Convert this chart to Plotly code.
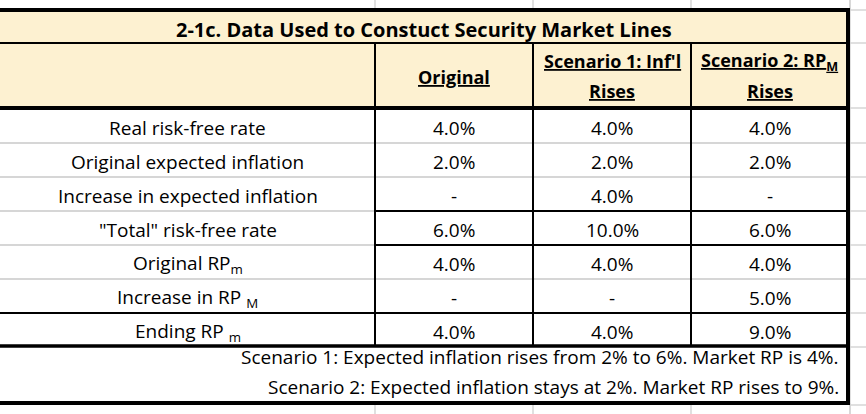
import plotly.graph_objects as go

# ---------------- data ----------------
title = "2-1c. Data Used to Constuct Security Market Lines"
col_headers = ["Original", "Scenario 1: Inf'l<br>Rises", "Scenario 2: RP<sub>M</sub><br>Rises"]
row_labels = [
    "Real risk-free rate",
    "Original expected inflation",
    "Increase in expected inflation",
    '"Total" risk-free rate',
    "Original RP<sub>m</sub>",
    "Increase in RP <sub>M</sub>",
    "Ending RP <sub>m</sub>",
]
original = [4.0, 2.0, None, 6.0, 4.0, None, 4.0]
scenario1 = [4.0, 2.0, 4.0, 10.0, 4.0, None, 4.0]
scenario2 = [4.0, 2.0, None, 6.0, 4.0, 5.0, 9.0]
notes = [
    "Scenario 1: Expected inflation rises from 2% to 6%. Market RP is 4%.",
    "Scenario 2: Expected inflation stays at 2%. Market RP rises to 9%.",
]

def fmt(v):
    return "-" if v is None else f"{v:.1f}%"

# ---------------- geometry (pixel coordinates on axes) ----------------
W, H = 866, 414
FONT = "'Open Sans', Lato, sans-serif"
col_x = [0, 375, 533, 691, 848]
title_top, title_bot = 10, 43
head_bot = 108
row_h = 34
first_row = 109
n_rows = len(row_labels)
rows_bot = first_row + n_rows * row_h  # 347
table_bot = 403

GRID = "#D6D6D6"
HEAD_BG = "#FDF1D1"

shapes = []

def line(x0, y0, x1, y1, color, width):
    shapes.append(dict(type="line", xref="x", yref="y", x0=x0, y0=y0, x1=x1, y1=y1,
                       line=dict(color=color, width=width), layer="above"))

# spreadsheet gridlines outside the table
for x in [375, 533, 691, 850]:
    line(x, 0, x, title_top, GRID, 1.5)
    line(x, table_bot, x, H, GRID, 1.5)
line(850, 0, 850, H, GRID, 1.5)
for y in [title_top, title_top + 33, head_bot] + [first_row + i * row_h for i in range(1, n_rows + 1)] + [table_bot + 2]:
    line(850, y, W, y, GRID, 1.5)

# header background
shapes.append(dict(type="rect", xref="x", yref="y", x0=0, y0=title_top, x1=col_x[-1], y1=head_bot,
                   fillcolor=HEAD_BG, line=dict(width=0), layer="below"))

# inner row separators
black_full = {6}          # above "Ending RP"
black_values = {3, 4}     # above "Total" and "Original RP" (values only)
for i in range(1, n_rows):
    y = first_row + i * row_h
    if i in black_full:
        line(0, y, col_x[-1], y, "black", 2)
    elif i in black_values:
        line(0, y, col_x[1], y, GRID, 2)
        line(col_x[1], y, col_x[-1], y, "black", 2)
    else:
        line(0, y, col_x[-1], y, GRID, 2)

# column dividers
for x in col_x[1:-1]:
    line(x, title_bot, x, rows_bot, "black", 2)

# title bottom, header bottom, notes top
line(0, title_bot, col_x[-1], title_bot, "black", 2)
line(0, head_bot, col_x[-1], head_bot, "black", 4)
line(0, rows_bot - 1, col_x[-1], rows_bot - 1, "black", 3.5)

# outer border
line(0, title_top, col_x[-1] + 1, title_top, "black", 4)
line(0, table_bot, col_x[-1] + 1, table_bot, "black", 4)
line(col_x[-1], title_top - 2, col_x[-1], table_bot + 2, "black", 4)

annotations = []

def text(x, y, s, size=18, bold=False, xanchor="center", underline=False):
    font = dict(family=FONT, size=size, color="black")
    if bold:
        font["weight"] = "bold"
    if underline:
        font["lineposition"] = "under"
    annotations.append(dict(x=x, y=y, xref="x", yref="y", text=s, showarrow=False,
                            xanchor=xanchor, yanchor="middle", font=font))

# title
text(col_x[-1] / 2, 29, title, size=20, bold=True)

# column headers
centers = [(col_x[i] + col_x[i + 1]) / 2 for i in range(1, 4)]
for c, h in zip(centers, col_headers):
    parts = h.split("<br>")
    if len(parts) == 1:
        text(c, 77, parts[0], size=18, bold=True, underline=True)
    else:
        text(c, 61, parts[0], size=18, bold=True, underline=True)
        text(c, 91, parts[1], size=18, bold=True, underline=True)

# body
for i, lab in enumerate(row_labels):
    yc = first_row + i * row_h + row_h / 2 + 2
    text(col_x[1] / 2, yc, lab, size=19)
    for c, series in zip(centers, [original, scenario1, scenario2]):
        text(c, yc, fmt(series[i]), size=19)

# notes
text(841, 357, notes[0], size=19, xanchor="right")
text(841, 387, notes[1], size=19, xanchor="right")

fig = go.Figure()
fig.update_layout(
    width=W, height=H,
    margin=dict(l=0, r=0, t=0, b=0),
    paper_bgcolor="white", plot_bgcolor="white",
    xaxis=dict(range=[0, W], visible=False, fixedrange=True),
    yaxis=dict(range=[H, 0], visible=False, fixedrange=True),
    shapes=shapes, annotations=annotations, showlegend=False,
)
fig.write_html("out.html", config={"displayModeBar": False},
               post_script="document.body.style.margin='0';document.body.style.overflow='hidden';")
